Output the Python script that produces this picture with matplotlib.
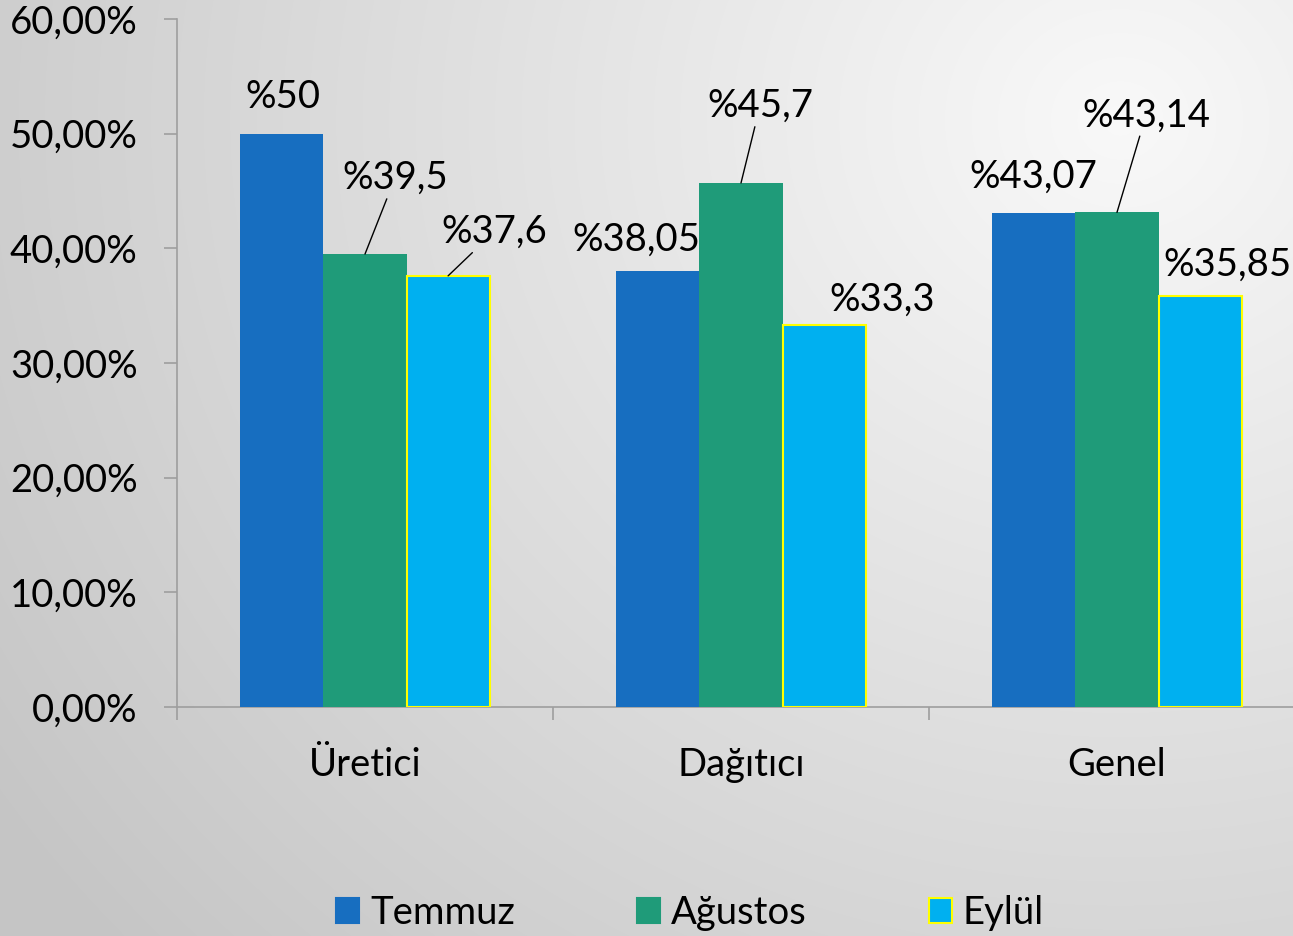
import numpy as np
import matplotlib.pyplot as plt
from matplotlib.patches import Patch

plt.rcParams['font.family'] = ['Lato', 'DejaVu Sans']

categories = ['Üretici', 'Dağıtıcı', 'Genel']
series = ['Temmuz', 'Ağustos', 'Eylül']
temmuz = [50.0, 38.05, 43.07]
agustos = [39.5, 45.7, 43.14]
eylul = [37.6, 33.3, 35.85]
value_labels = [['%50', '%38,05', '%43,07'],
                ['%39,5', '%45,7', '%43,14'],
                ['%37,6', '%33,3', '%35,85']]
yticks = [0, 10, 20, 30, 40, 50, 60]

colors = ['#176EC0', '#1F9B79', '#00B0F0']
edges = ['none', 'none', '#FFFF00']
# label offset from bar top in pixels (dx, dy) and whether a leader line is drawn
label_pos = [[(1, 37, False), (-22, 31, False), (-1, 36, False)],
             [(30, 76, True), (19, 77, True), (29, 97, True)],
             [(46, 44, True), (58, 25, False), (27, 31, False)]]

FS = 27.5
W, H = 1293, 936
fig = plt.figure(figsize=(W / 100, H / 100), dpi=100)

# background: soft radial gradient, light at top right
bg = fig.add_axes([0, 0, 1, 1], zorder=-10)
yy, xx = np.mgrid[0:H, 0:W]
d = np.hypot(xx - 1120, (yy - 120) * 1.1) / 1350
shade = 0.975 - 0.2 * np.clip(d, 0, 1)
bg.imshow(np.dstack([shade] * 3), aspect='auto', extent=[0, 1, 0, 1])
bg.axis('off')

ax = fig.add_axes([177 / W, 1 - 707 / H, (1305 - 177) / W, 688 / H])
ax.set_facecolor('none')

x = np.arange(len(categories))
bw = 0.221
for j, vals in enumerate([temmuz, agustos, eylul]):
    pos = x + (j - 1) * bw
    ax.bar(pos, vals, bw, color=colors[j], edgecolor=edges[j],
           linewidth=1.5 if edges[j] != 'none' else 0, label=series[j], zorder=3)
    for i, v in enumerate(vals):
        dx, dy, line = label_pos[j][i]
        ap = dict(arrowstyle='-', color='black', lw=1.0, shrinkA=0, shrinkB=0) if line else None
        ax.annotate(value_labels[j][i], (pos[i], v), xytext=(dx, dy),
                    textcoords='offset pixels', ha='center', va='center',
                    fontsize=FS, color='black', arrowprops=ap, zorder=5,
                    annotation_clip=False)

ax.set_xlim(-0.5, 2.5)
ax.set_ylim(0, 60)
ax.set_yticks(yticks)
ax.set_yticklabels([f'{v:.2f}%'.replace('.', ',') for v in yticks])
ax.set_xticks(x)
ax.set_xticklabels(categories)
ax.set_xticks([-0.5, 0.5, 1.5, 2.5], minor=True)

for s in ['top', 'right']:
    ax.spines[s].set_visible(False)
for s in ['left', 'bottom']:
    ax.spines[s].set_color('#9e9e9e')
    ax.spines[s].set_linewidth(1.2)
ax.tick_params(axis='y', length=9.4, width=1.2, color='#9e9e9e', pad=19, labelsize=FS)
ax.tick_params(axis='x', which='major', length=0, pad=29, labelsize=FS)
ax.tick_params(axis='x', which='minor', length=9.4, width=1.2, color='#9e9e9e')

handles = [Patch(facecolor=colors[j], edgecolor=edges[j] if edges[j] != 'none' else colors[j],
                 linewidth=1.5) for j in range(3)]
fig.legend(handles, series, loc='center', bbox_to_anchor=(690 / W, 1 - 913 / H),
           ncol=3, frameon=False, fontsize=FS, handlelength=0.6, handleheight=0.62,
           handletextpad=0.28, columnspacing=3.2, borderaxespad=0)

fig.savefig('out.png', dpi=100)
